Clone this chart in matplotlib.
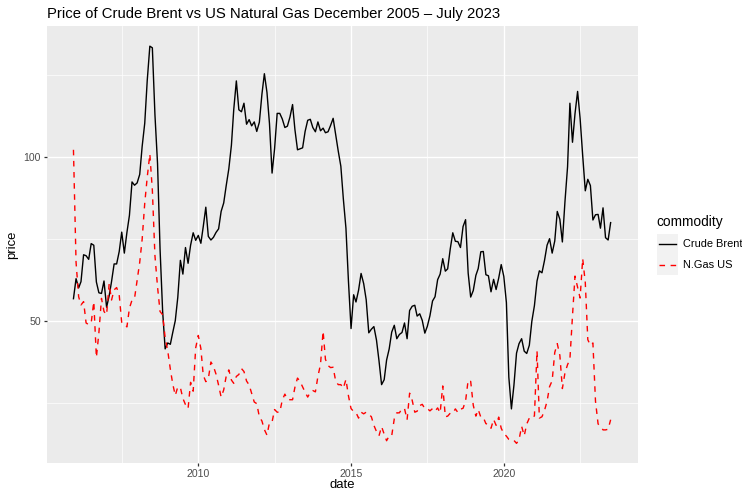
import numpy as np
import pandas as pd
import matplotlib
matplotlib.use("Agg")
import matplotlib.pyplot as plt
import matplotlib.dates as mdates
from matplotlib.ticker import FixedLocator
from matplotlib.lines import Line2D
from matplotlib.patches import Rectangle

plt.rcParams["font.family"] = ["Liberation Sans", "DejaVu Sans"]

# Monthly prices, December 2005 - July 2023
dates = pd.date_range("2005-12-01", "2023-07-01", freq="MS")

crude_brent = [
    56.9,
    63.0, 60.2, 62.1, 70.3, 70.0, 68.9, 73.7, 73.2, 62.0, 58.7, 58.5, 62.3,
    54.3, 57.8, 62.1, 67.5, 67.5, 71.3, 77.2, 70.8, 77.1, 82.3, 92.5, 91.5,
    92.2, 94.8, 103.3, 110.4, 123.5, 133.9, 133.4, 113.0, 98.1, 72.1, 53.0, 41.6,
    43.4, 43.0, 46.5, 50.2, 57.3, 68.6, 64.4, 72.5, 67.7, 73.2, 77.0, 74.7,
    76.2, 73.8, 78.8, 84.8, 75.9, 74.8, 75.6, 77.1, 78.2, 83.5, 86.1, 91.4,
    96.5, 103.7, 114.6, 123.3, 114.5, 113.9, 116.5, 110.1, 111.5, 109.6, 110.8, 107.9,
    110.7, 119.3, 125.5, 119.8, 110.3, 95.2, 102.6, 113.4, 113.4, 111.7, 109.1, 109.5,
    112.3, 116.1, 108.5, 102.3, 102.6, 102.9, 107.9, 111.3, 111.6, 109.1, 107.8, 110.8,
    108.1, 108.9, 107.5, 107.8, 109.7, 111.9, 107.0, 101.9, 97.3, 87.3, 78.4, 62.2,
    47.8, 58.1, 55.9, 59.5, 64.6, 61.5, 56.6, 46.5, 47.6, 48.4, 44.3, 38.0,
    30.7, 32.2, 38.2, 41.6, 46.7, 48.8, 44.7, 46.0, 46.6, 49.5, 44.7, 53.3,
    54.6, 54.9, 51.6, 52.3, 50.3, 46.4, 48.5, 51.7, 56.2, 57.5, 62.7, 64.4,
    69.1, 65.3, 66.0, 72.1, 77.0, 74.4, 74.3, 72.5, 78.9, 81.0, 64.7, 57.4,
    59.4, 64.0, 66.1, 71.2, 71.3, 64.2, 63.9, 59.0, 62.8, 59.7, 63.2, 67.3,
    63.7, 55.7, 33.0, 23.3, 30.5, 40.3, 43.2, 44.7, 40.9, 40.2, 42.7, 50.0,
    54.8, 62.3, 65.4, 64.8, 68.5, 73.2, 75.2, 70.8, 74.5, 83.5, 81.1, 74.2,
    86.5, 97.1, 116.5, 104.6, 113.3, 120.1, 111.9, 100.5, 89.8, 93.3, 91.4, 80.9,
    82.5, 82.6, 78.4, 84.6, 75.5, 74.8, 80.1,
]

ngas_us = [
    102.3,
    68.0, 57.5, 55.0, 56.0, 49.5, 49.0, 49.5, 56.0, 39.0, 46.5, 57.0, 53.0,
    52.0, 61.5, 56.5, 59.6, 60.3, 58.0, 49.5, 49.0, 48.3, 54.0, 56.5, 57.0,
    62.6, 68.0, 75.0, 86.0, 94.0, 101.0, 90.0, 70.0, 60.5, 53.0, 52.0, 45.0,
    41.0, 35.4, 31.0, 27.4, 30.0, 29.8, 26.5, 24.6, 23.4, 31.4, 28.7, 41.9,
    45.7, 41.7, 33.6, 31.6, 32.5, 37.6, 36.3, 33.9, 30.5, 26.9, 29.1, 33.3,
    35.2, 32.1, 31.1, 33.2, 33.8, 35.6, 34.7, 31.8, 30.6, 28.0, 25.4, 24.9,
    20.9, 19.6, 17.0, 15.3, 19.1, 19.3, 23.1, 22.3, 22.3, 26.0, 27.8, 26.2,
    26.1, 26.1, 29.9, 32.7, 31.7, 30.0, 28.4, 26.9, 28.4, 28.9, 28.5, 33.2,
    36.9, 47.0, 38.4, 36.5, 35.9, 36.0, 31.8, 30.7, 30.7, 29.6, 32.3, 27.3,
    23.4, 22.5, 22.2, 20.5, 22.3, 21.8, 22.3, 21.7, 20.9, 18.3, 16.4, 15.1,
    17.9, 15.6, 13.6, 15.1, 15.1, 20.3, 22.1, 22.1, 23.4, 23.4, 20.0, 28.1,
    25.9, 22.3, 22.6, 24.3, 24.7, 23.4, 23.4, 22.7, 23.4, 22.6, 23.6, 22.1,
    30.3, 20.9, 21.1, 22.0, 22.0, 23.3, 22.2, 23.2, 23.5, 25.7, 32.1, 31.7,
    24.4, 21.1, 23.1, 20.8, 20.7, 18.8, 18.6, 17.4, 20.1, 18.3, 20.8, 17.4,
    15.8, 15.0, 14.0, 13.6, 13.7, 12.8, 13.9, 18.0, 15.1, 18.7, 20.5, 20.3,
    21.2, 41.0, 20.5, 20.9, 22.8, 25.6, 30.1, 31.9, 40.5, 43.2, 39.6, 29.5,
    34.3, 36.8, 38.4, 51.7, 63.8, 60.4, 57.1, 69.1, 61.8, 44.4, 42.7, 43.4,
    25.6, 18.7, 18.1, 16.9, 16.9, 17.1, 20.0,
]

commodities = ["Crude Brent", "N.Gas US"]
line_colors = ["black", "red"]
line_styles = ["solid", (0, (4, 4))]

title = "Price of Crude Brent vs US Natural Gas December 2005 \u2013 July 2023"

W, H = 742, 492
PT = 0.86         # theme points -> matplotlib points
LW = 1.0

fig = plt.figure(figsize=(W / 100, H / 100), dpi=100)
fig.patch.set_facecolor("white")

px_left, px_right, px_top, px_bottom = 46.6, 637.5, 26.3, 463.2
ax = fig.add_axes([px_left / W, 1 - px_bottom / H,
                   (px_right - px_left) / W, (px_bottom - px_top) / H])
ax.set_facecolor("#EBEBEB")
for s in ax.spines.values():
    s.set_visible(False)

for vals, col, ls in zip([crude_brent, ngas_us], line_colors, line_styles):
    ax.plot(dates, vals, color=col, linestyle=ls, lw=LW, solid_joinstyle="round")

ax.margins(x=0.05, y=0.05)

# grid: major + minor
ax.yaxis.set_major_locator(FixedLocator([50, 100]))
ax.yaxis.set_minor_locator(FixedLocator([25, 75, 125]))
ax.xaxis.set_major_locator(FixedLocator(
    [mdates.date2num(pd.Timestamp(y, 1, 1)) for y in (2010, 2015, 2020)]))
ax.xaxis.set_minor_locator(FixedLocator(
    [mdates.date2num(pd.Timestamp(y, 7, 2)) for y in (2007, 2012, 2017, 2022)]))
ax.xaxis.set_major_formatter(mdates.DateFormatter("%Y"))
ax.grid(which="major", color="white", lw=1.0)
ax.grid(which="minor", color="white", lw=0.5)
ax.set_axisbelow(True)

ax.tick_params(which="major", length=2.4, width=0.9, color="#333333",
               labelcolor="#4D4D4D", labelsize=8.8 * PT, pad=1.6)
ax.tick_params(which="minor", length=0)

ax.set_xlabel("date", fontsize=11 * PT)
ax.xaxis.label.set_verticalalignment("baseline")
ax.xaxis.set_label_coords(0.5, (px_bottom - 488.5) / (px_bottom - px_top))
ax.set_ylabel("price", fontsize=11 * PT)
ax.yaxis.label.set_verticalalignment("center")
ax.yaxis.set_label_coords((12.0 - px_left) / (px_right - px_left), 0.5)

fig.text(px_left / W, 1 - 18.0 / H, title, fontsize=10.75,
         ha="left", va="baseline", color="black")

# legend
LEG = 0.9
lx, key_w, key_h = 656.5, 21.6, 20.8
fig.text(lx / W, 1 - 222 / H, "commodity", fontsize=11 * LEG, ha="left", va="center")
key_top = 233.5
for i, (name, col, ls) in enumerate(zip(commodities, line_colors, line_styles)):
    y0 = key_top + i * key_h
    fig.add_artist(Rectangle((lx / W, 1 - (y0 + key_h) / H), key_w / W, key_h / H,
                             transform=fig.transFigure, facecolor="#F2F2F2",
                             edgecolor="none"))
    yc = y0 + key_h / 2
    fig.add_artist(Line2D([(lx + 2.2) / W, (lx + key_w - 2.2) / W],
                          [1 - yc / H, 1 - yc / H], transform=fig.transFigure,
                          color=col, linestyle=ls, lw=LW))
    fig.text((lx + key_w + 5) / W, 1 - yc / H, name, fontsize=8.8 * LEG,
             ha="left", va="center")

fig.savefig("out.png", dpi=100)
